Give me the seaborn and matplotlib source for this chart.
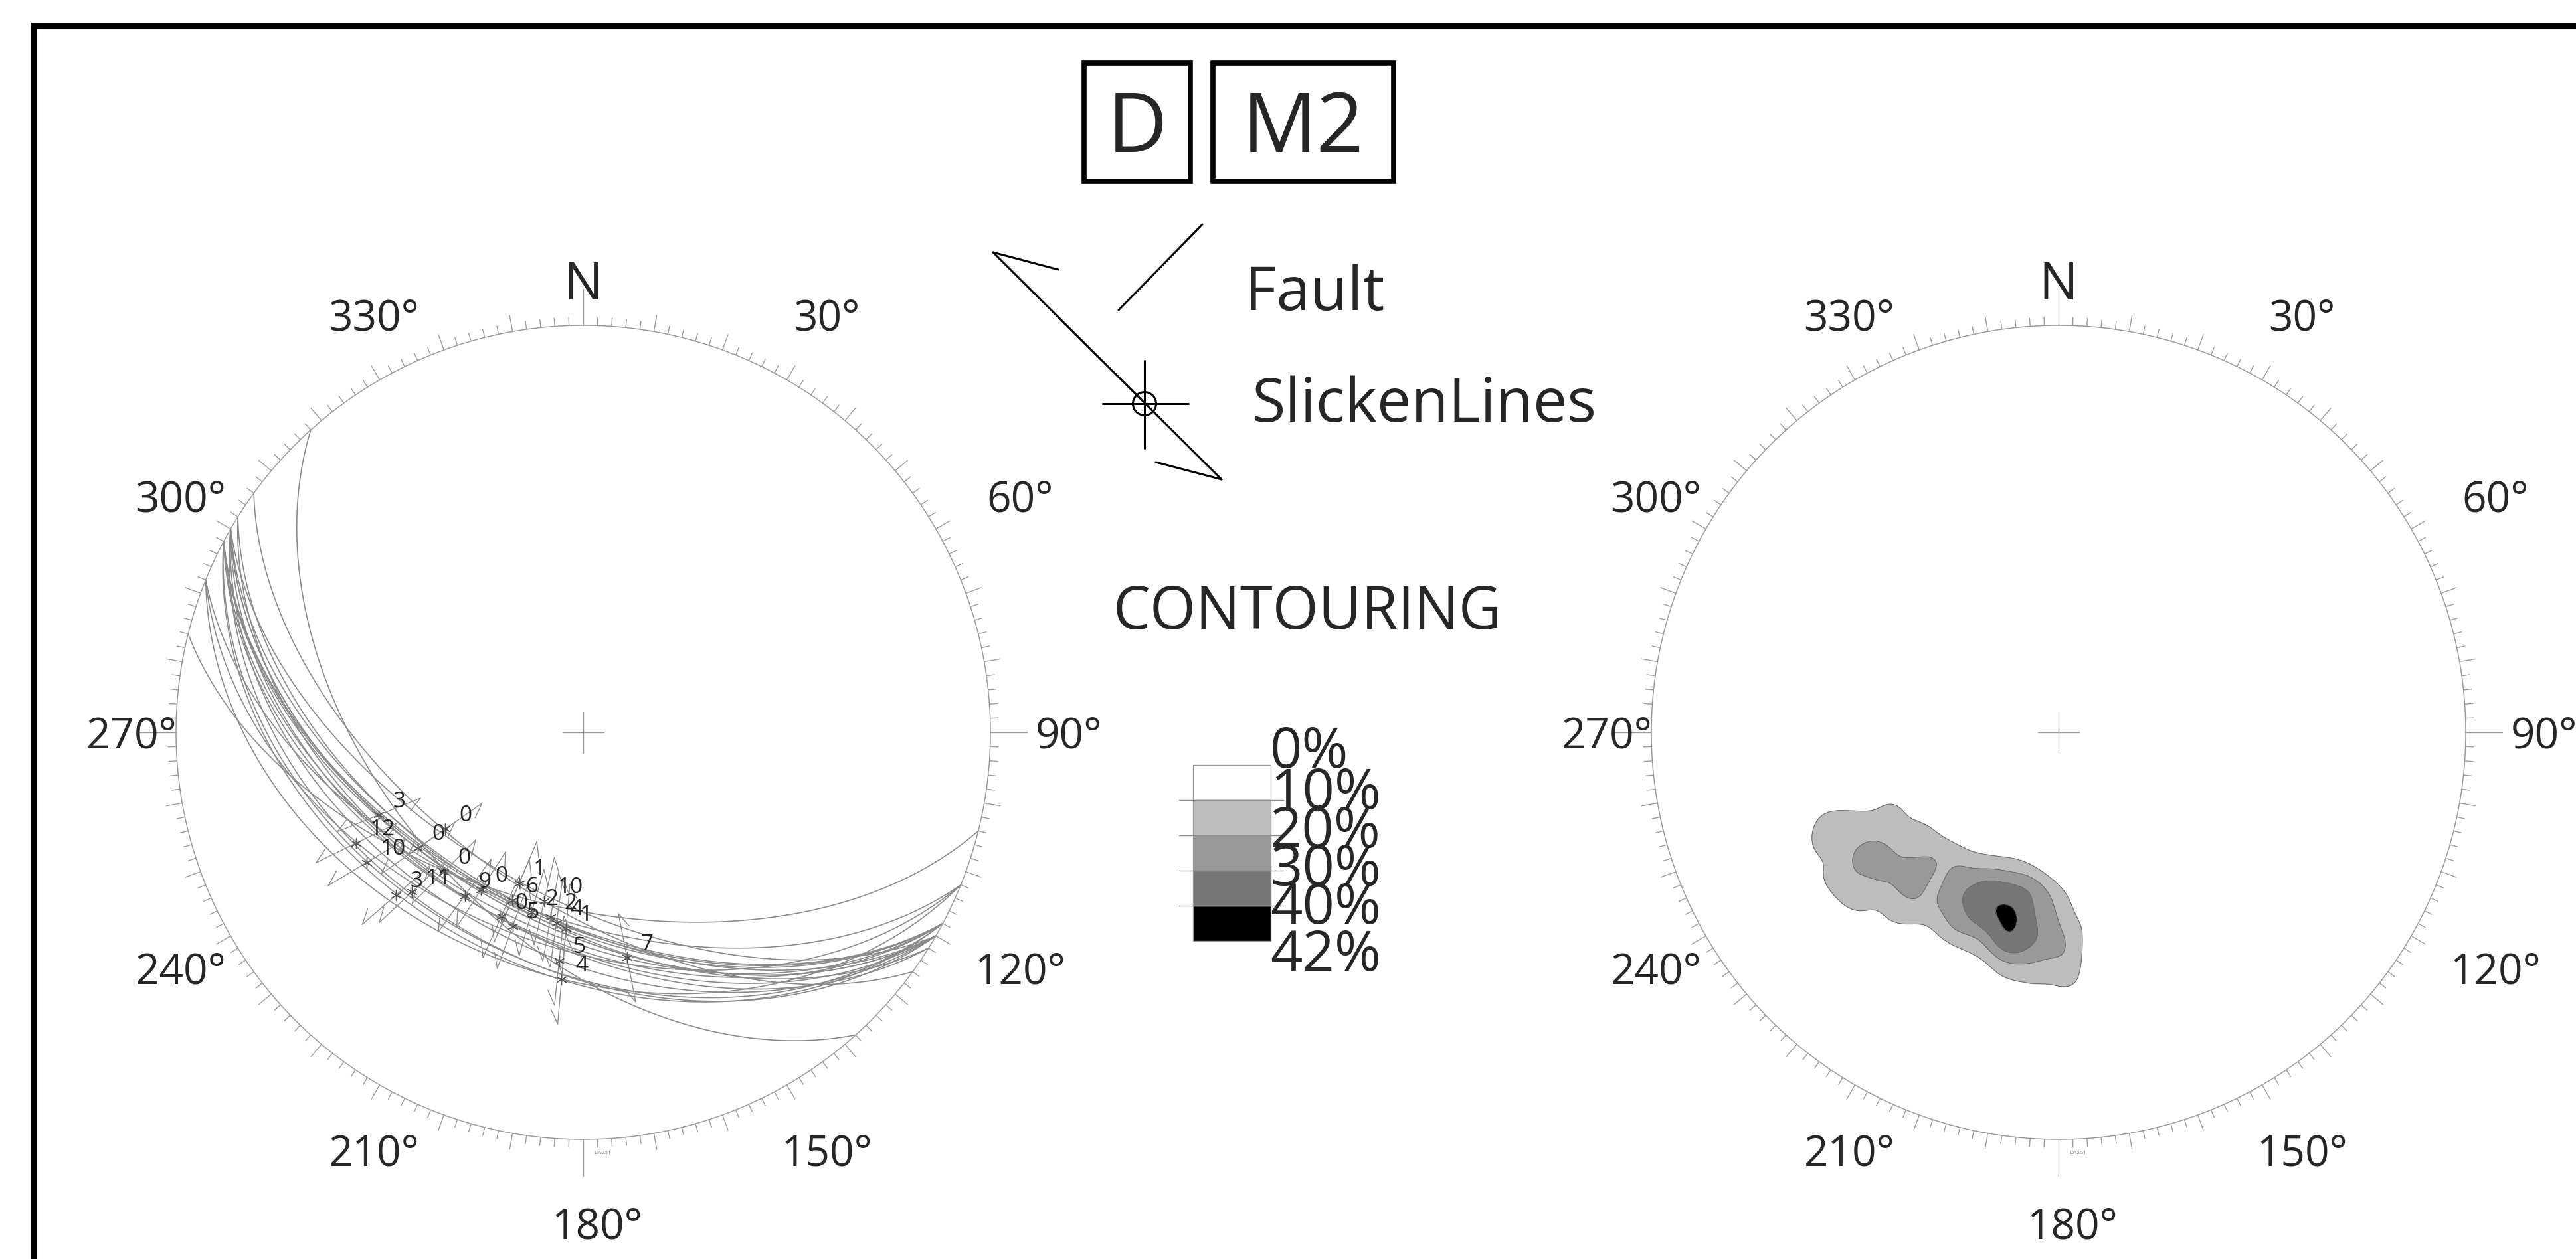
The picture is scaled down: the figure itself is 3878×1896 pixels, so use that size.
import numpy as np
import pandas as pd
import matplotlib
matplotlib.use("Agg")
import matplotlib.pyplot as plt
from matplotlib.patches import Rectangle, Circle
import seaborn as sns

W, H, DPI = 3878, 1896, 100

# fault planes (dip direction / dip, degrees)
fault_dipdir = [210, 202, 208, 210, 216, 228, 208, 210, 212, 208, 210,
                202, 194, 208, 210, 212, 208, 210, 208, 210, 202, 208]
fault_dip = [51.6, 46.6, 42.5, 51.6, 57.1, 50.4, 41.2, 42.8, 48.8, 52.1, 57.4,
             52.7, 54.5, 48.8, 48.7, 52.7, 53.1, 53.4, 52.7, 45.7, 40.3, 50.0]

# slickenlines on those planes (trend / plunge) and their labels
slick_trend = [248, 244, 239, 235, 235, 225, 229, 227, 216, 213, 203,
               203, 193, 204, 200, 196, 190, 188, 185, 186, 185, 169]
slick_plunge = [45, 38, 38, 49, 56, 50, 39, 42, 49, 52, 57,
                53, 55, 49, 48, 52, 52, 51, 50, 43, 39, 43]
slick_label = ["3", "12", "10", "0", "0", "0", "3", "11", "9", "0", "1",
               "6", "10", "0", "5", "2", "2", "4", "1", "5", "4", "7"]

# contouring legend (percent per 1% area)
contour_levels = [0, 10, 20, 30, 40, 42]
contour_colors = ["#ffffff", "#bdbdbd", "#999999", "#777777", "#000000"]

ring_angles = [0, 30, 60, 90, 120, 150, 180, 210, 240, 270, 300, 330]
ring_text = ["N", "30°", "60°", "90°", "120°", "150°", "180°",
             "210°", "240°", "270°", "300°", "330°"]


def project(trend, plunge):
    """Lower hemisphere equal-area (Schmidt) projection, unit primitive."""
    t = np.radians(np.asarray(trend, float))
    p = np.radians(np.asarray(plunge, float))
    r = np.sqrt(2) * np.sin((np.pi / 2 - p) / 2)
    return r * np.sin(t), r * np.cos(t)


def great_circle(dipdir, dip, n=181):
    strike = np.radians(dipdir - 90)
    dd, dp = np.radians(dipdir), np.radians(dip)
    phi = np.linspace(0, np.pi, n)
    s = np.array([np.cos(strike), np.sin(strike), 0.0])
    d = np.array([np.cos(dp) * np.cos(dd), np.cos(dp) * np.sin(dd), np.sin(dp)])
    v = np.outer(np.cos(phi), s) + np.outer(np.sin(phi), d)
    trend = np.degrees(np.arctan2(v[:, 1], v[:, 0]))
    plunge = np.degrees(np.arcsin(np.clip(v[:, 2], -1, 1)))
    return project(trend, plunge)


sns.set_style("white")
plt.rcParams["font.family"] = ["Open Sans", "DejaVu Sans"]

fig = plt.figure(figsize=(W / DPI, H / DPI), dpi=DPI)
fig.patch.set_facecolor("white")

# overlay axes in pixel coordinates for frame and legend
ax0 = fig.add_axes([0, 0, 1, 1])
ax0.set_xlim(0, W)
ax0.set_ylim(H, 0)
ax0.axis("off")

R_PX = 613
LIM = 1.35


def net_axes(cx, cy):
    half = LIM * R_PX
    ax = fig.add_axes([(cx - half) / W, (H - cy - half) / H, 2 * half / W, 2 * half / H])
    ax.set_xlim(-LIM, LIM)
    ax.set_ylim(-LIM, LIM)
    ax.axis("off")
    ax.patch.set_alpha(0)
    return ax


def draw_net(ax):
    th = np.linspace(0, 2 * np.pi, 721)
    ax.plot(np.cos(th), np.sin(th), color="#9a9a9a", lw=1.1, zorder=3)
    for a in range(0, 360, 2):
        ln = 0.02
        if a % 10 == 0:
            ln = 0.04
        if a % 90 == 0:
            ln = 0.09
        t = np.radians(a)
        ax.plot([np.sin(t), (1 + ln) * np.sin(t)], [np.cos(t), (1 + ln) * np.cos(t)],
                color="#9a9a9a", lw=1.0, zorder=3)
    for a, txt in zip(ring_angles, ring_text):
        t = np.radians(a)
        if a == 0:
            ax.text(0.0, 1.064, txt, ha="center", va="baseline", fontsize=56)
            continue
        if a == 180:
            ax.text(0.034, -1.206 - 0.038, txt, ha="center", va="baseline", fontsize=46)
            continue
        if a % 90 == 0:
            rx, ry = 1.15, 1.17
        elif a in (60, 120, 240, 300):
            rx, ry = 1.19, 1.16
        else:
            rx, ry = 1.112, 1.185
        ax.text(rx * np.sin(t) + 0.042, ry * np.cos(t) - 0.038, txt,
                ha="center", va="baseline", fontsize=46)
    ax.plot([-0.05, 0.05], [0, 0], color="#9a9a9a", lw=1.0)
    ax.plot([0, 0], [-0.05, 0.05], color="#9a9a9a", lw=1.0)
    ax.text(0.047, -1.034, "DA251", fontsize=6, color="#888888", ha="center", va="center")


# ---- left net: faults and slickenlines ----
axL = net_axes(878, 1103)
draw_net(axL)

frames = []
for i, (a, b) in enumerate(zip(fault_dipdir, fault_dip)):
    x, y = great_circle(a, b)
    frames.append(pd.DataFrame({"fault": i, "x": x, "y": y}))
gc = pd.concat(frames, ignore_index=True)
sns.lineplot(data=gc, x="x", y="y", units="fault", estimator=None, sort=False,
             color="#8a8a8a", lw=1.2, ax=axL, legend=False)

sx, sy = project(slick_trend, slick_plunge)
lin = pd.DataFrame({"x": sx, "y": sy, "label": slick_label, "trend": slick_trend})

half, barb, ang = 0.11, 0.04, np.radians(30)
for _, r in lin.iterrows():
    t = np.radians(r["trend"])
    u = np.array([np.sin(t), np.cos(t)])
    p = np.array([r["x"], r["y"]])
    e0, e1 = p - half * u, p + half * u
    axL.plot([e0[0], e1[0]], [e0[1], e1[1]], color="#8a8a8a", lw=1.0)
    for end, v in ((e1, -u), (e0, u)):
        rv = np.array([v[0] * np.cos(ang) - v[1] * np.sin(ang),
                       v[0] * np.sin(ang) + v[1] * np.cos(ang)])
        axL.plot([end[0], end[0] + barb * rv[0]], [end[1], end[1] + barb * rv[1]],
                 color="#8a8a8a", lw=1.0)
    axL.text(r["x"] + 0.034, r["y"] + 0.033, r["label"], fontsize=24,
             color="#222222", ha="left", va="center")

sns.scatterplot(data=lin, x="x", y="y", marker=(6, 2, 0), s=120, color="#555555",
                linewidth=1.0, ax=axL, legend=False, zorder=5)
axL.set_xlabel("")
axL.set_ylabel("")

# ---- right net: density contours of slickenlines ----
axR = net_axes(3099, 1103)
draw_net(axR)

g = np.linspace(-1.1, 1.1, 331)
gx, gy = np.meshgrid(g, g)
dist = np.hypot(gx[..., None] - sx, gy[..., None] - sy)
weight = np.clip((0.13 - dist) / 0.03, 0, 1)
dens = 100 * weight.sum(-1) / len(sx)
kern = np.exp(-0.5 * (np.arange(-9, 10) / 3.0) ** 2)
kern /= kern.sum()
dens = np.apply_along_axis(lambda row: np.convolve(row, kern, mode="same"), 0, dens)
dens = np.apply_along_axis(lambda row: np.convolve(row, kern, mode="same"), 1, dens)
dens[np.hypot(gx, gy) > 1] = np.nan

top = max(np.nanmax(dens), contour_levels[-1]) + 1
axR.contourf(gx, gy, dens, levels=contour_levels[1:-1] + [top],
             colors=contour_colors[1:], zorder=1)
axR.contour(gx, gy, dens, levels=contour_levels[1:-1], colors="#6e6e6e",
            linewidths=0.8, zorder=2)

# ---- frame ----
ax0.plot([51, W + 20], [38, 38], color="black", lw=6.5, solid_capstyle="projecting")
ax0.plot([51, 51], [38, H + 20], color="black", lw=6.5, solid_capstyle="projecting")

# ---- title boxes ----
for x0, x1, txt in ((1632, 1792, "D"), (1826, 2098, "M2")):
    ax0.add_patch(Rectangle((x0, 95), x1 - x0, 178, fill=False, ec="black", lw=5.5))
    ax0.text((x0 + x1) / 2, 229, txt, ha="center", va="baseline", fontsize=90)

# ---- fault / slickenline legend ----
ax0.plot([1684, 1810], [467, 338], color="black", lw=2.2)
ax0.text(1874, 467, "Fault", ha="left", va="baseline", fontsize=66)

ax0.plot([1495, 1839], [380, 722], color="black", lw=2.2)
ax0.plot([1495, 1593], [380, 406], color="black", lw=2.2)
ax0.plot([1839, 1740], [722, 696], color="black", lw=2.2)
ax0.add_patch(Circle((1723, 608), 17.5, fill=False, ec="black", lw=2.2))
ax0.plot([1660, 1789], [608, 608], color="black", lw=2.2)
ax0.plot([1723, 1723], [543, 675], color="black", lw=2.2)
ax0.text(1884, 635, "SlickenLines", ha="left", va="baseline", fontsize=66)

# ---- contouring legend ----
ax0.text(1968, 947, "CONTOURING", ha="center", va="baseline", fontsize=64)
band_top, band_h = 1152, 53
for i, c in enumerate(contour_colors):
    ax0.add_patch(Rectangle((1796, band_top + i * band_h), 117, band_h,
                            fc=c, ec="#9a9a9a", lw=1.0))
for i in range(1, len(contour_colors)):
    yb = band_top + i * band_h
    ax0.plot([1775, 1932], [yb, yb], color="#8a8a8a", lw=1.0)
label_base = [1156, 1218, 1276, 1333, 1391, 1462]
for lv, yb in zip(contour_levels, label_base):
    ax0.text(1912, yb, f"{lv}%", ha="left", va="baseline", fontsize=61)

fig.savefig("out.png", dpi=DPI, facecolor="white")
